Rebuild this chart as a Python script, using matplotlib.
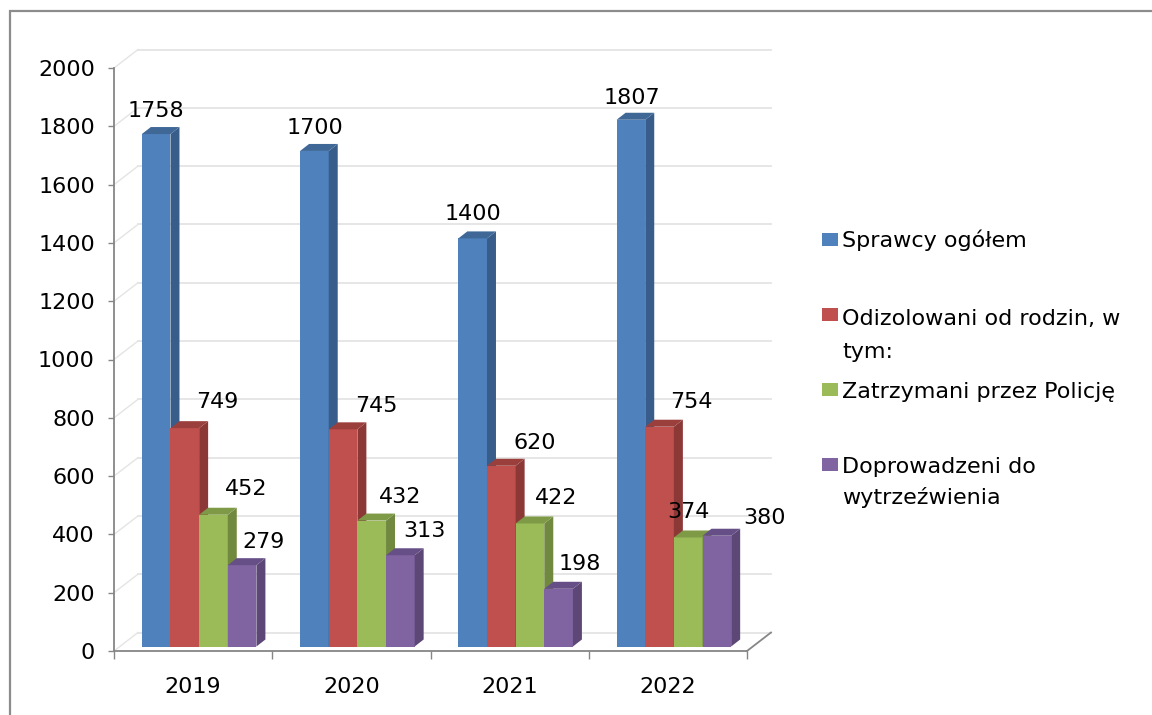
import matplotlib
matplotlib.use("Agg")
import matplotlib.pyplot as plt
from matplotlib.patches import Rectangle, Polygon
import numpy as np

# ---------------- data ----------------
years = ["2019", "2020", "2021", "2022"]
series_names = ["Sprawcy ogółem",
                "Odizolowani od rodzin, w\ntym:",
                "Zatrzymani przez Policję",
                "Doprowadzeni do\nwytrzeźwienia"]
sprawcy = [1758, 1700, 1400, 1807]
odizolowani = [749, 745, 620, 754]
zatrzymani = [452, 432, 422, 374]
doprowadzeni = [279, 313, 198, 380]
y_ticks = [0, 200, 400, 600, 800, 1000, 1200, 1400, 1600, 1800, 2000]

# ---------------- style ----------------
front_colors = ["#4F81BD", "#C0504D", "#9BBB59", "#8064A2"]
side_colors = ["#385D8A", "#8C3836", "#71893F", "#5C4776"]
top_colors = ["#3F6896", "#9A3F3C", "#7E9A47", "#664F86"]
# label offsets in pixels: (dx from bar front centre, dy above bar top face)
label_dx = [[0, 1, 0, 1], [33, 33, 33, 32], [33, 28, 26, 0], [21, 24, 21, 48]]
label_dy = [[10, 10, 11, 9], [13, 10, 10, 12], [13, 11, 12, 12], [10, 11, 12, 5]]

W, H = 1152, 715
FONT = "DejaVu Sans"
FS = 16
plt.rcParams['font.family'] = [FONT]

fig = plt.figure(figsize=(W / 100, H / 100), dpi=100)
fig.patch.set_facecolor("white")

ax_left, ax_right, ax_top, ax_bottom = 114, 747, 68, 651
ax = fig.add_axes([ax_left / W, 1 - ax_bottom / H, (ax_right - ax_left) / W, (ax_bottom - ax_top) / H])
ax.set_xlim(-0.5, 3.5)
ax.set_ylim(0, 2000)
ax.patch.set_alpha(0)

ppx = (ax_right - ax_left) / 4.0      # pixels per category
ppy = (ax_bottom - ax_top) / 2000.0   # pixels per unit


def dx(px):
    return px / ppx


def dy(px):
    return px / ppy


wall_dx, wall_dy = dx(24), dy(18.5)
bar_fx, bar_fy = dx(6), dy(4.5)
bar_dx, bar_dy = dx(9), dy(7)

grid_c = "#E4E4E4"
axis_c = "#868686"

# back wall gridlines and side wall diagonals
for v in y_ticks:
    ax.plot([-0.5 + wall_dx, 3.5 + wall_dx], [v + wall_dy, v + wall_dy],
            color=grid_c, lw=1.3, clip_on=False, zorder=0.5)
    ax.plot([-0.5, -0.5 + wall_dx], [v, v + wall_dy],
            color=grid_c, lw=1.0, clip_on=False, zorder=0.5)
# floor right edge
ax.plot([3.5, 3.5 + wall_dx], [0, wall_dy], color=axis_c, lw=1.3, clip_on=False, zorder=0.6)

# bars
data = [sprawcy, odizolowani, zatrzymani, doprowadzeni]
group_w = 0.724
bw = group_w / 4
z = 1
for c in range(len(years)):
    for s in range(4):
        v = data[s][c]
        fl = c - group_w / 2 + s * bw + bar_fx
        b = bar_fy
        ax.add_patch(Rectangle((fl, b), bw, v, facecolor=front_colors[s],
                               edgecolor="none", zorder=z, clip_on=False))
        ax.add_patch(Polygon([(fl + bw, b), (fl + bw + bar_dx, b + bar_dy),
                              (fl + bw + bar_dx, b + v + bar_dy), (fl + bw, b + v)],
                             closed=True, facecolor=side_colors[s], edgecolor="none",
                             zorder=z, clip_on=False))
        ax.add_patch(Polygon([(fl, b + v), (fl + bw, b + v),
                              (fl + bw + bar_dx, b + v + bar_dy), (fl + bar_dx, b + v + bar_dy)],
                             closed=True, facecolor=top_colors[s], edgecolor="none",
                             zorder=z, clip_on=False))
        z += 0.01
        ax.text(fl + bw / 2 + dx(label_dx[s][c]), b + v + bar_dy + dy(label_dy[s][c]),
                str(v), ha="center", va="baseline", fontsize=FS, color="black",
                zorder=20, clip_on=False)

# axes styling
for sp in ["top", "right"]:
    ax.spines[sp].set_visible(False)
for sp in ["left", "bottom"]:
    ax.spines[sp].set_color(axis_c)
    ax.spines[sp].set_linewidth(1.3)
    ax.spines[sp].set_zorder(0.7)

ax.set_yticks(y_ticks)
ax.set_yticklabels([str(t) for t in y_ticks])
ax.tick_params(axis="y", direction="out", length=4.3, width=1.0, color=axis_c,
               labelsize=FS, pad=9.5)
ax.set_xticks([-0.5, 0.5, 1.5, 2.5, 3.5])
ax.set_xticklabels([])
ax.tick_params(axis="x", which="major", direction="out", length=5.8, width=1.0, color=axis_c)
ax.set_xticks([0, 1, 2, 3], minor=True)
ax.set_xticklabels(years, minor=True)
ax.tick_params(axis="x", which="minor", length=0, labelsize=FS, pad=19)

# legend (manual)
leg_x = 822
leg_sq_top = [233, 308, 383, 458]
leg_baselines = [[247], [325, 358], [398], [473, 504]]
for s in range(4):
    fig.patches.append(Rectangle((leg_x / W, 1 - (leg_sq_top[s] + 13) / H), 16 / W, 13 / H,
                                 transform=fig.transFigure, facecolor=front_colors[s],
                                 edgecolor="none"))
    for line, base in zip(series_names[s].split("\n"), leg_baselines[s]):
        fig.text(842 / W, 1 - base / H, line, ha="left", va="baseline", fontsize=FS)

# outer border
fig.patches.append(Rectangle((10 / W, -0.05), 1.2, 1 - 11 / H + 0.05,
                             transform=fig.transFigure, facecolor="none",
                             edgecolor="#8C8C8C", lw=1.6, clip_on=False))

fig.savefig("out.png", dpi=100, facecolor="white")
